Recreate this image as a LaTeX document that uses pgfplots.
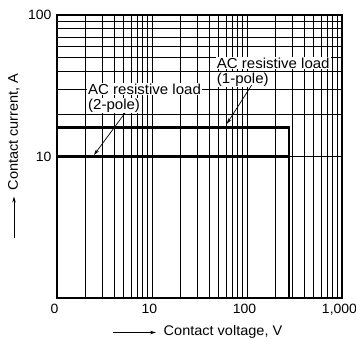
\documentclass[border=0pt]{standalone}
\usepackage{fontspec}
\setmainfont{Liberation Sans}[FakeStretch=1.04]
\usepackage{pgfplots}
\pgfplotsset{compat=1.18}
\usetikzlibrary{arrows.meta}

\begin{document}
\begin{tikzpicture}
\begin{axis}[
  xmode=log, ymode=log,
  scale only axis, width=285bp, height=283bp,
  xmin=1, xmax=1000, ymin=1, ymax=100,
  xtick={1,10,100,1000}, xticklabels={0,10,100,{1,000}},
  ytick={10,100}, yticklabels={10,100},
  grid=both,
  major grid style={black, line width=0.65bp},
  minor grid style={black, line width=0.65bp},
  major tick length=0pt, minor tick length=0pt,
  axis line style={line width=1.4bp},
  ticklabel style={font=\fontsize{13.5}{15}\selectfont},
  xticklabel style={yshift=-3bp, xshift=-2.5bp},
  yticklabel style={xshift=-2bp},
  /pgf/number format/assume math mode=true,
  clip=false,
]
\addplot[black, line width=2.4bp] coordinates {(1,16) (275,16) (275,1)};
\addplot[black, line width=2.4bp] coordinates {(1,10) (275,10) (275,1)};
\end{axis}
% annotations (axis box lower-left at origin, 1bp = 1px)
\begin{scope}[x=1bp, y=1bp]
\begin{scope}[font=\fontsize{14.5}{16}\selectfont]
\node[anchor=base west, fill=white, inner sep=1bp] at (30,203.7) {AC resistive load};
\node[anchor=base west, fill=white, inner sep=1bp] at (30,189) {(2-pole)};
\node[anchor=base west, fill=white, inner sep=1bp] at (158.7,229.7) {AC resistive load};
\node[anchor=base west, fill=white, inner sep=1bp] at (158.7,214.5) {(1-pole)};
\end{scope}
\draw[line width=0.7bp, -{Stealth[length=6bp,width=3.5bp]}] (68,185) -- (37,143);
\draw[line width=0.7bp, -{Stealth[length=6bp,width=3.5bp]}] (194.7,213) -- (169.7,174);
% axis labels with arrows
\begin{scope}[font=\fontsize{14}{16}\selectfont]
\node[anchor=center] at (166,-34) {Contact voltage, V};
\draw[line width=0.7bp, -{Stealth[length=6bp,width=3.5bp]}] (56,-34.5) -- (99,-34.5);
\node[anchor=center, rotate=90] at (-43,166) {Contact current, A};
\draw[line width=0.7bp, -{Stealth[length=6bp,width=3.5bp]}] (-43,59.5) -- (-43,101.5);
\end{scope}
\end{scope}
\pgfresetboundingbox
\path[use as bounding box] (-57bp,-41bp) rectangle (299bp,298bp);
\end{tikzpicture}
\end{document}
